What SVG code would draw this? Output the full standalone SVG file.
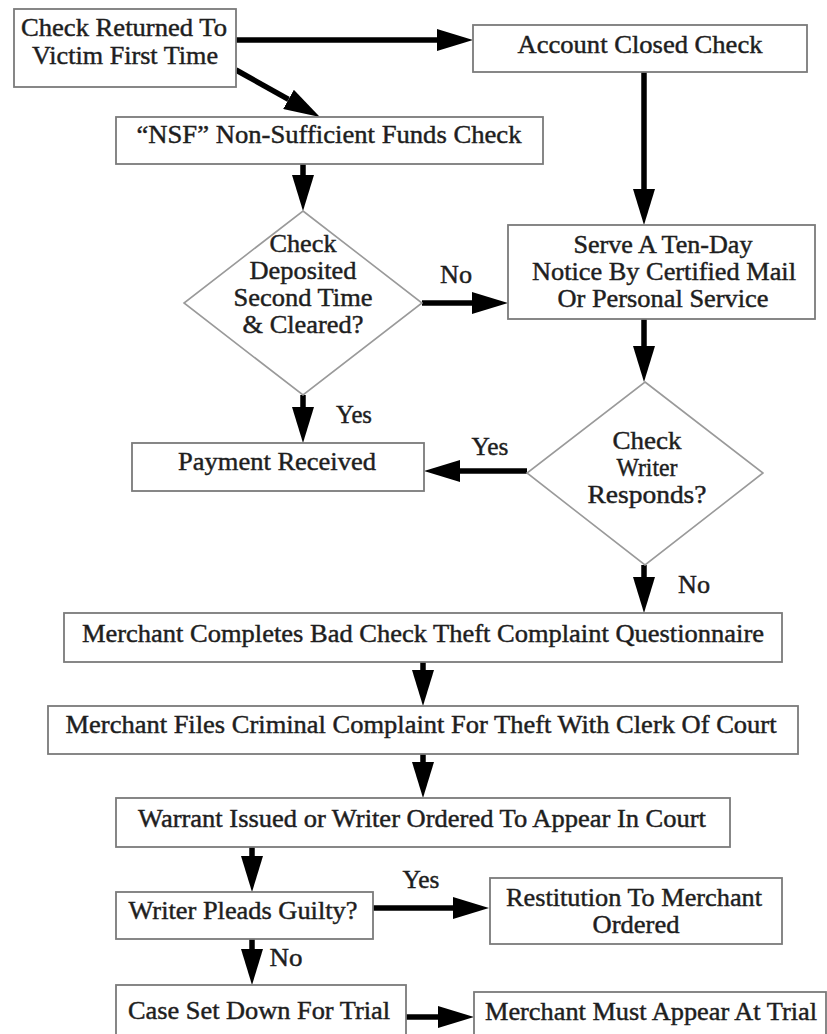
<svg xmlns="http://www.w3.org/2000/svg" width="827" height="1034" viewBox="0 0 827 1034">
<style>
.box{fill:#fff;stroke:#7a7a7a;stroke-width:1.8}
.dia{fill:#fff;stroke:#9a9a9a;stroke-width:1.6}
.t{font-family:"Liberation Serif","Times New Roman",serif;font-size:26px;fill:#1e1e1e;stroke:#1e1e1e;stroke-width:0.45;text-anchor:middle}
.conn{fill:none;stroke:#000;stroke-width:5.5}
</style>
<defs>
<marker id="ah" markerUnits="userSpaceOnUse" markerWidth="36" markerHeight="22" refX="0" refY="11" orient="auto">
<path d="M0,0 L36,11 L0,22 Z" fill="#000"/>
</marker>
</defs>
<rect width="827" height="1034" fill="#fff"/>
<g id="connectors">
<path class="conn" d="M236,40 H437" marker-end="url(#ah)"/>
<path class="conn" d="M236,70 L288.5,99.4" marker-end="url(#ah)"/>
<path class="conn" d="M303,164 V175" marker-end="url(#ah)"/>
<path class="conn" d="M644,72 V189" marker-end="url(#ah)"/>
<path class="conn" d="M422,303 H472" marker-end="url(#ah)"/>
<path class="conn" d="M644,319 V346" marker-end="url(#ah)"/>
<path class="conn" d="M303,395 V407" marker-end="url(#ah)"/>
<path class="conn" d="M527,471 H460" marker-end="url(#ah)"/>
<path class="conn" d="M644,565 V577" marker-end="url(#ah)"/>
<path class="conn" d="M423,662 V670" marker-end="url(#ah)"/>
<path class="conn" d="M423,754 V762" marker-end="url(#ah)"/>
<path class="conn" d="M252,847 V856" marker-end="url(#ah)"/>
<path class="conn" d="M373,908 H453" marker-end="url(#ah)"/>
<path class="conn" d="M252,939 V949" marker-end="url(#ah)"/>
<path class="conn" d="M406,1017 H438" marker-end="url(#ah)"/>
<text class="t" x="456" y="283" textLength="32" lengthAdjust="spacingAndGlyphs">No</text>
<text class="t" x="354" y="423" textLength="36" lengthAdjust="spacingAndGlyphs">Yes</text>
<text class="t" x="490" y="455" textLength="37" lengthAdjust="spacingAndGlyphs">Yes</text>
<text class="t" x="694" y="593" textLength="32" lengthAdjust="spacingAndGlyphs">No</text>
<text class="t" x="421" y="888" textLength="37" lengthAdjust="spacingAndGlyphs">Yes</text>
<text class="t" x="286" y="966" textLength="33" lengthAdjust="spacingAndGlyphs">No</text>
</g>
<g id="n-returned">
<rect class="box" x="14" y="9" width="222" height="78"/>
<text class="t" x="124" y="36" textLength="206" lengthAdjust="spacingAndGlyphs">Check Returned To</text>
<text class="t" x="125" y="64" textLength="186" lengthAdjust="spacingAndGlyphs">Victim First Time</text>
</g>
<g id="n-closed">
<rect class="box" x="473" y="25" width="334" height="47"/>
<text class="t" x="640" y="53" textLength="245" lengthAdjust="spacingAndGlyphs">Account Closed Check</text>
</g>
<g id="n-nsf">
<rect class="box" x="116" y="117" width="427" height="47"/>
<text class="t" x="329" y="143" textLength="385" lengthAdjust="spacingAndGlyphs">“NSF” Non-Sufficient Funds Check</text>
</g>
<g id="n-deposited">
<polygon class="dia" points="303,211 422,303 303,395 184,303"/>
<text class="t" x="303" y="252" textLength="67" lengthAdjust="spacingAndGlyphs">Check</text>
<text class="t" x="303" y="279" textLength="107" lengthAdjust="spacingAndGlyphs">Deposited</text>
<text class="t" x="303" y="306" textLength="139" lengthAdjust="spacingAndGlyphs">Second Time</text>
<text class="t" x="303" y="333" textLength="121" lengthAdjust="spacingAndGlyphs">&amp; Cleared?</text>
</g>
<g id="n-notice">
<rect class="box" x="508" y="225" width="307" height="94"/>
<text class="t" x="663" y="253" textLength="179" lengthAdjust="spacingAndGlyphs">Serve A Ten-Day</text>
<text class="t" x="664" y="280" textLength="264" lengthAdjust="spacingAndGlyphs">Notice By Certified Mail</text>
<text class="t" x="663" y="307" textLength="211" lengthAdjust="spacingAndGlyphs">Or Personal Service</text>
</g>
<g id="n-responds">
<polygon class="dia" points="645,382 763,473 645,565 527,473"/>
<text class="t" x="647" y="449" textLength="69" lengthAdjust="spacingAndGlyphs">Check</text>
<text class="t" x="647" y="476" textLength="61" lengthAdjust="spacingAndGlyphs">Writer</text>
<text class="t" x="647" y="503" textLength="119" lengthAdjust="spacingAndGlyphs">Responds?</text>
</g>
<g id="n-payment">
<rect class="box" x="132" y="443" width="292" height="48"/>
<text class="t" x="277" y="470" textLength="198" lengthAdjust="spacingAndGlyphs">Payment Received</text>
</g>
<g id="n-questionnaire">
<rect class="box" x="64" y="613" width="718" height="49"/>
<text class="t" x="423" y="642" textLength="682" lengthAdjust="spacingAndGlyphs">Merchant Completes Bad Check Theft Complaint Questionnaire</text>
</g>
<g id="n-files">
<rect class="box" x="48" y="706" width="750" height="48"/>
<text class="t" x="421" y="733" textLength="711" lengthAdjust="spacingAndGlyphs">Merchant Files Criminal Complaint For Theft With Clerk Of Court</text>
</g>
<g id="n-warrant">
<rect class="box" x="116" y="798" width="614" height="49"/>
<text class="t" x="422" y="827" textLength="568" lengthAdjust="spacingAndGlyphs">Warrant Issued or Writer Ordered To Appear In Court</text>
</g>
<g id="n-guilty">
<rect class="box" x="116" y="892" width="257" height="47"/>
<text class="t" x="243" y="919" textLength="229" lengthAdjust="spacingAndGlyphs">Writer Pleads Guilty?</text>
</g>
<g id="n-restitution">
<rect class="box" x="490" y="878" width="292" height="66"/>
<text class="t" x="634" y="906" textLength="256" lengthAdjust="spacingAndGlyphs">Restitution To Merchant</text>
<text class="t" x="636" y="933" textLength="87" lengthAdjust="spacingAndGlyphs">Ordered</text>
</g>
<g id="n-trial">
<rect class="box" x="116" y="985" width="290" height="60"/>
<text class="t" x="259" y="1019" textLength="262" lengthAdjust="spacingAndGlyphs">Case Set Down For Trial</text>
</g>
<g id="n-appear">
<rect class="box" x="474" y="992" width="352" height="60"/>
<text class="t" x="651" y="1020" textLength="332" lengthAdjust="spacingAndGlyphs">Merchant Must Appear At Trial</text>
</g>
</svg>
